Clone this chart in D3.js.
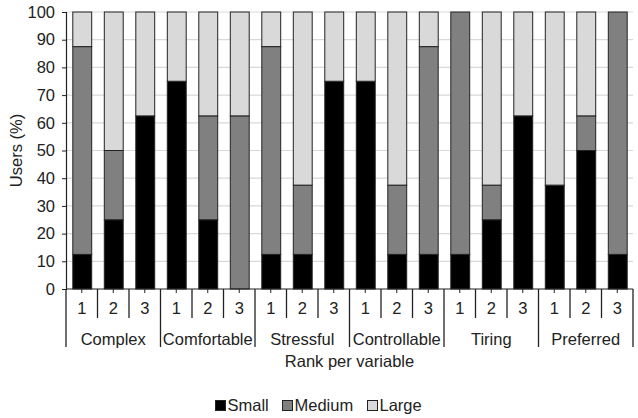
<!DOCTYPE html>
<html>
<head>
<meta charset="utf-8">
<script src="https://cdn.jsdelivr.net/npm/d3@7"></script>
<style>
  body { margin: 0; background: #fff; }
  text { font-family: "Liberation Sans", Arial, sans-serif; fill: #222; }
</style>
</head>
<body>
<div id="chart"></div>
<script>
// data
var variables = ["Complex", "Comfortable", "Stressful", "Controllable", "Tiring", "Preferred"];
var ranks = ["1", "2", "3"];
var sizes = ["Small", "Medium", "Large"];
var small  = [12.5, 25, 62.5, 75, 25, 0, 12.5, 12.5, 75, 75, 12.5, 12.5, 12.5, 25, 62.5, 37.5, 50, 12.5];
var medium = [75, 25, 0, 0, 37.5, 62.5, 75, 25, 0, 0, 25, 75, 87.5, 12.5, 0, 0, 12.5, 87.5];
var large  = [12.5, 50, 37.5, 25, 37.5, 37.5, 12.5, 62.5, 25, 25, 62.5, 12.5, 0, 62.5, 37.5, 62.5, 37.5, 0];
var yTicks = [0, 10, 20, 30, 40, 50, 60, 70, 80, 90, 100];

var colors = { Small: "#000000", Medium: "#808080", Large: "#d9d9d9" };
var fontSize = "16.5px";

var rows = [];
variables.forEach(function (v, i) {
    ranks.forEach(function (r, j) {
        var k = i * 3 + j;
        rows.push({ key: v + "-" + r, variable: v, rank: r, Small: small[k], Medium: medium[k], Large: large[k] });
    });
});

var width = 638, height = 418;
var margin = { top: 12, right: 5, bottom: 129, left: 66 };

var svg = d3.select("#chart").append("svg")
    .attr("width", width).attr("height", height);

var x = d3.scaleBand()
    .domain(rows.map(function (d) { return d.key; }))
    .range([margin.left, width - margin.right])
    .paddingInner(0.4).paddingOuter(0.2);

var y = d3.scaleLinear().domain([0, 100]).range([height - margin.bottom, margin.top]);

// gridlines
svg.append("g").selectAll("line")
    .data(yTicks.slice(1))
    .join("line")
    .attr("x1", margin.left).attr("x2", width - margin.right)
    .attr("y1", function (d) { return y(d); }).attr("y2", function (d) { return y(d); })
    .attr("stroke", "#d9d9d9").attr("stroke-width", 1.2);

// stacked bars
var series = d3.stack().keys(sizes)(rows);
svg.append("g").selectAll("g")
    .data(series)
    .join("g")
    .attr("fill", function (s) { return colors[s.key]; })
    .selectAll("rect")
    .data(function (s) { return s.filter(function (d) { return d[1] - d[0] > 0; }); })
    .join("rect")
    .attr("x", function (d) { return x(d.data.key) + 0.5; })
    .attr("width", x.bandwidth())
    .attr("y", function (d) { return y(d[1]); })
    .attr("height", function (d) { return y(d[0]) - y(d[1]); })
    .attr("stroke", "#222").attr("stroke-width", 1);

// y axis
var yAxis = svg.append("g")
    .attr("transform", "translate(" + margin.left + ",0)")
    .call(d3.axisLeft(y).tickValues(yTicks).tickSize(4).tickPadding(7));
yAxis.select(".domain").attr("stroke", "#222").attr("stroke-width", 1.2);
yAxis.selectAll(".tick line").attr("stroke", "#222");
yAxis.selectAll("text").style("font-size", fontSize).style("font-family", "'Liberation Sans', Arial, sans-serif").attr("fill", "#222");

svg.append("text")
    .attr("transform", "translate(18," + ((y(0) + y(100)) / 2) + ") rotate(-90)")
    .attr("text-anchor", "middle")
    .attr("dominant-baseline", "middle")
    .style("font-size", fontSize)
    .text("Users (%)");

// x axis: baseline, center ticks, separators
var base = y(0);
var step = x.step();
var x0 = margin.left;
var xa = svg.append("g").attr("stroke", "#222");
xa.append("line")
    .attr("x1", x0).attr("x2", width - margin.right)
    .attr("y1", base).attr("y2", base).attr("stroke-width", 1.2);

xa.selectAll("line.ctr")
    .data(rows)
    .join("line").attr("class", "ctr")
    .attr("x1", function (d) { return x(d.key) + x.bandwidth() / 2; })
    .attr("x2", function (d) { return x(d.key) + x.bandwidth() / 2; })
    .attr("y1", base).attr("y2", base + 4);

var seps = d3.range(rows.length + 1);
xa.selectAll("line.sep")
    .data(seps)
    .join("line").attr("class", "sep")
    .attr("x1", function (i) { return x0 + i * step; })
    .attr("x2", function (i) { return x0 + i * step; })
    .attr("y1", base)
    .attr("y2", function (i) { return i % 3 === 0 ? base + 58 : base + 29; })
    .attr("stroke-width", 1.3);

svg.append("g").selectAll("text")
    .data(rows)
    .join("text")
    .attr("x", function (d) { return x(d.key) + x.bandwidth() / 2; })
    .attr("y", base + 25)
    .attr("text-anchor", "middle")
    .style("font-size", fontSize)
    .text(function (d) { return d.rank; });

svg.append("g").selectAll("text")
    .data(variables)
    .join("text")
    .attr("x", function (v, i) { return x0 + (i * 3 + 1.5) * step; })
    .attr("y", base + 56)
    .attr("text-anchor", "middle")
    .style("font-size", fontSize)
    .text(function (v) { return v; });

svg.append("text")
    .attr("x", (x0 + width - margin.right) / 2)
    .attr("y", base + 78)
    .attr("text-anchor", "middle")
    .style("font-size", fontSize)
    .text("Rank per variable");

// legend
var legendX = [215, 282, 367];
var lg = svg.append("g").selectAll("g")
    .data(sizes)
    .join("g")
    .attr("transform", function (d, i) { return "translate(" + legendX[i] + "," + 400 + ")"; });
lg.append("rect")
    .attr("x", 0.5).attr("y", 0.5)
    .attr("width", 10).attr("height", 10)
    .attr("fill", function (d) { return colors[d]; })
    .attr("stroke", "#222");
lg.append("text")
    .attr("x", 12.5).attr("y", 11)
    .style("font-size", fontSize)
    .text(function (d) { return d; });
</script>
</body>
</html>
